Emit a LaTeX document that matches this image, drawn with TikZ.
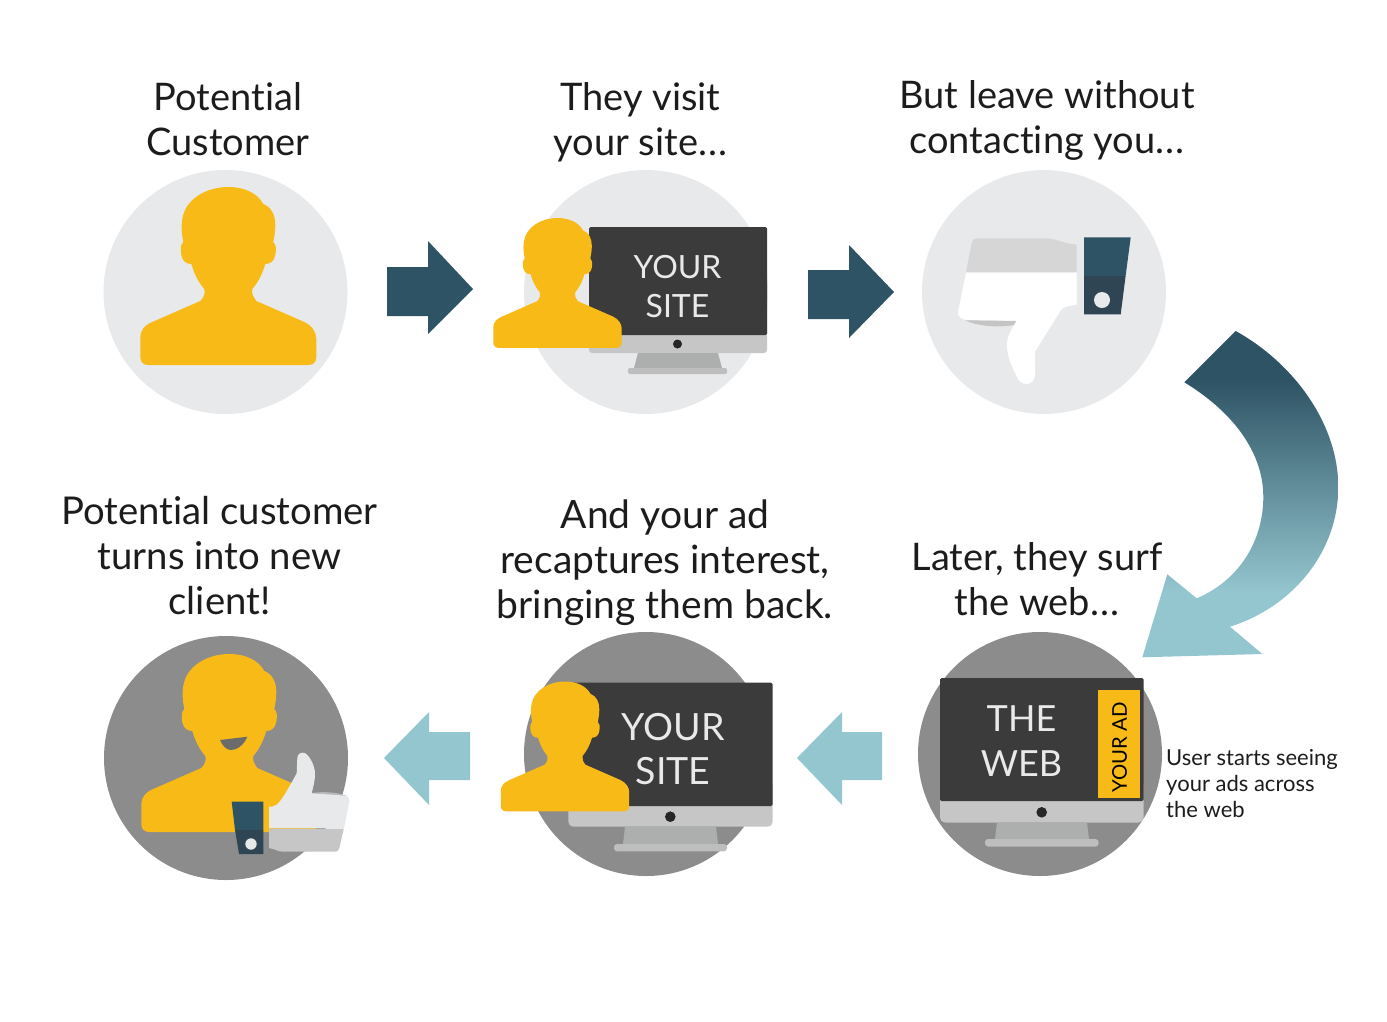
\documentclass[tikz,border=0pt]{standalone}
\usepackage{fontspec}
\setmainfont[Ligatures=NoCommon]{Lato}
\definecolor{lightdisc}{HTML}{E8E9EB}
\definecolor{darkdisc}{HTML}{8C8C8C}
\definecolor{skin}{HTML}{F8BA16}
\definecolor{navy}{HTML}{2E5364}
\definecolor{navylow}{HTML}{2F4553}
\definecolor{teal}{HTML}{94C6CF}
\definecolor{screen}{HTML}{3B3B3B}
\definecolor{chin}{HTML}{C6C6C6}
\definecolor{standc}{HTML}{ADAFAE}
\definecolor{basec}{HTML}{BEBEBE}
\definecolor{cap}{HTML}{1C1C1C}
\definecolor{screentxt}{HTML}{E9E9E9}
\pgfdeclareverticalshading{bigarrow}{100bp}{color(0bp)=(teal); color(35bp)=(teal); color(67.5bp)=(navy); color(100bp)=(navy)}
\newcommand{\threedots}{.\kern1.2pt.\kern1.2pt.}
\tikzset{
  disc/.style={circle,minimum size=244pt,inner sep=0pt,draw=none},
  lightd/.style={disc,fill=lightdisc},
  darkd/.style={disc,fill=darkdisc},
  caption/.style={align=center,text=cap,inner sep=0pt,font=\fontsize{38}{45}\selectfont},
  smallcap/.style={align=left,text=cap,inner sep=0pt,font=\fontsize{22}{26}\selectfont},
  screentext/.style={align=center,text=screentxt,inner sep=0pt},
  darkarrow/.style={fill=navy,draw=none},
  lightarrow/.style={fill=teal,draw=none},
}
\newcommand{\personshape}[3]{%
  \begin{scope}[shift={(#1,#2)},scale=#3]
  \fill[skin] (0,0)
    .. controls (16,0) and (29,6) .. (35,17)
    .. controls (43,20) and (47,28) .. (47,38)
    .. controls (47,45) and (46,50) .. (45,55)
    .. controls (48,58) and (48,62) .. (47,68)
    .. controls (46,74) and (42,77) .. (37,77)
    .. controls (34,87) and (30,95) .. (24,102)
    .. controls (23,106) and (25,110) .. (28,114)
    -- (76,135)
    .. controls (84,139) and (88,145) .. (88,152)
    -- (88,170)
    .. controls (88,175) and (85,178) .. (80,178)
    -- (-80,178)
    .. controls (-85,178) and (-88,175) .. (-88,170)
    -- (-88,150)
    .. controls (-88,144) and (-84,138) .. (-76,135)
    -- (-28,114)
    .. controls (-24,110) and (-23,106) .. (-24,102)
    .. controls (-30,95) and (-34,87) .. (-37,77)
    .. controls (-42,77) and (-46,74) .. (-47,68)
    .. controls (-48,62) and (-48,58) .. (-45,55)
    .. controls (-47,45) and (-47,38) .. (-46,32)
    .. controls (-43,12) and (-22,0) .. (0,0) -- cycle;
  \end{scope}}
\begin{document}
\begin{tikzpicture}[x=1pt,y=-1pt]
\useasboundingbox (0,0) rectangle (1387,1021);
% discs
\node[lightd] (d1) at (225.5,292) {};
\node[lightd] (d2) at (646,292) {};
\node[lightd] (d3) at (1044,292) {};
\node[darkd] (d4) at (1040,754) {};
\node[darkd] (d5) at (646,754) {};
\node[darkd] (d6) at (226,758) {};
% captions
\node[caption] (c1) at (228,119) {Potential\\Customer};
\node[caption] (c2) at (640.5,122) {They visit\\your site\threedots};
\node[caption] (c3) at (1047,120.5) {But leave without\\contacting you\threedots};
\node[caption] (c4) at (1037,579) {Later, they surf\\the web\threedots};
\node[caption,font=\fontsize{39}{45}\selectfont] (c5) at (665,562.5) {And your ad\\recaptures interest,\\bringing them back.};
\node[caption,font=\fontsize{38.3}{45}\selectfont] (c6) at (219.5,556) {Potential customer\\turns into new\\client!};
\node[smallcap,anchor=west] (c7) at (1166,784) {User starts seeing\\your ads across\\the web};
% person 1
\personshape{228.3}{187}{1}
% monitor 2
\fill[chin,rounded corners=3pt] (589,300) rectangle (767,353);
\fill[screen,rounded corners=1.5pt] (589,227) -- (767,227) -- (767,335) -- (589,335) -- cycle;
\fill[standc] (638,353) -- (718,353) -- (722,368) -- (634,368) -- cycle;
\fill[basec,rounded corners=2pt] (628,368) rectangle (727,374);
\fill[black!85] (677.5,344) circle (4.5pt);
\node[screentext,font=\fontsize{32}{39}\selectfont] (s2) at (677.5,286.5) {YOUR\\SITE};
\personshape{557.5}{218}{.73}
% thumbs down
\fill[navy] (1084,237.3) -- (1130.7,237.3) -- (1125.6,276) -- (1084,276) -- cycle;
\fill[navylow] (1084,276) -- (1125.6,276) -- (1120.7,314.3) -- (1084,314.3) -- cycle;
\fill[lightdisc] (1102,300) circle (8pt);
\fill[white!84!black] (966,272) -- (971.7,243) .. controls (972,240) and (974,238.3) .. (977,238.3) -- (1048,238.3) .. controls (1056,239) and (1062,243) .. (1076.7,244.7) -- (1076.7,272) -- cycle;
\fill[white] (966,272.7) -- (1076.7,272.7) -- (1076.7,305) .. controls (1068,305.5) and (1064,307) .. (1061,310) -- (1035,351.7) -- (1035,373) .. controls (1035,381) and (1031,384) .. (1026.7,384) .. controls (1022,384) and (1019,381) .. (1016.7,376.7) .. controls (1012,366) and (1007,358) .. (1007,345) .. controls (1007,335) and (1012,330) .. (1016,321) -- (966,320) .. controls (961,319) and (957,316) .. (958,312) -- cycle;
\fill[white!76!black!96] (965,320.3) -- (1016,321) -- (1014,325) .. controls (1000,327.5) and (980,327) .. (965,320.3) -- cycle;
% web monitor
\fill[chin,rounded corners=5pt] (940,780) rectangle (1143.5,822.5);
\fill[screen,rounded corners=1.5pt] (940,678) -- (1143.5,678) -- (1143.5,801) -- (940,801) -- cycle;
\fill[standc] (997,822.5) -- (1087,822.5) -- (1089,839) -- (995,839) -- cycle;
\fill[basec,rounded corners=3pt] (985,839) rectangle (1098.5,846.5);
\fill[black!85] (1041.7,812.3) circle (5.3pt);
\node[screentext,font=\fontsize{36}{44.5}\selectfont] (s4) at (1021.5,741) {THE\\WEB};
\fill[skin] (1098,690) rectangle (1140,798);
\node[rotate=90,inner sep=0pt,text=black,font=\fontsize{20.3}{24}\selectfont] (ad) at (1119.5,747.5) {YOUR AD};
% monitor 5
\fill[chin,rounded corners=5pt] (568.3,780) rectangle (772.7,826.7);
\fill[screen,rounded corners=1.5pt] (568.3,682.7) -- (772.7,682.7) -- (772.7,806) -- (568.3,806) -- cycle;
\fill[standc] (625,826.7) -- (716,826.7) -- (718,844) -- (623,844) -- cycle;
\fill[basec,rounded corners=3pt] (614,844) rectangle (727,851.3);
\fill[black!85] (670.3,816.7) circle (5.3pt);
\node[screentext,font=\fontsize{37.5}{44.5}\selectfont] (s5) at (673,749) {YOUR\\SITE};
\personshape{565}{681.5}{.73}
% person 6
\personshape{229.3}{654}{1}
\fill[black!58] (220,740) -- (247.3,736.7) .. controls (244,745) and (237,750) .. (231,750) .. controls (226,750) and (222,745) .. (220,740) -- cycle;
% thumbs up
\fill[navy] (231.7,801.7) -- (263.3,801.7) -- (263.3,830) -- (235,830) -- cycle;
\fill[navylow] (235,830) -- (263.3,830) -- (263.3,854) -- (239,854) -- cycle;
\fill[lightdisc] (251,844) circle (5.7pt);
\fill[white!72!black] (308,793.5) .. controls (322,791) and (338,792) .. (346.7,796) -- cycle;
\fill[lightdisc] (269,806.7) -- (272,806.7) .. controls (278,806) and (282,800) .. (296.7,773.3) -- (297.3,758.3) .. controls (297.5,754) and (300,752.7) .. (303.3,752.7) .. controls (308,752.7) and (315,765) .. (315,773.3) .. controls (315,782) and (313,787) .. (311.7,793.3) -- (346.7,795.7) .. controls (348.5,796.5) and (349.3,799) .. (349.3,801.7) -- (344,828) -- (269,828) -- cycle;
\fill[chin] (269,828.7) -- (343.8,828.7) -- (339.3,848.3) .. controls (338.5,851) and (337,851.7) .. (335,851.7) -- (283.3,851.7) .. controls (278,851.7) and (275,849) .. (269,848) -- cycle;
% straight arrows
\fill[darkarrow] (387,267) -- (428,267) -- (428,241) -- (473,289) -- (428,334) -- (428,316) -- (387,316) -- cycle;
\fill[darkarrow] (808,270) -- (849,270) -- (849,245) -- (894,292) -- (849,338) -- (849,319) -- (808,319) -- cycle;
\fill[lightarrow] (470,732) -- (429,732) -- (429,712) -- (384,758) -- (429,805) -- (429,780) -- (470,780) -- cycle;
\fill[lightarrow] (882,732) -- (842,732) -- (842,712) -- (797,758) -- (842,805) -- (842,780) -- (882,780) -- cycle;
% curved arrow
\path[shading=bigarrow] (1235.7,331) .. controls (1295,364) and (1338.3,425) .. (1338.3,487)
  .. controls (1338.3,550) and (1295,606) .. (1230,626.7)
  -- (1262.3,654) -- (1142.3,657.3) -- (1167.3,574.3) -- (1196.7,598.3)
  .. controls (1240,580) and (1263.3,540) .. (1263.3,497)
  .. controls (1263.3,450) and (1230,410) .. (1184.3,382.3) -- cycle;
\end{tikzpicture}
\end{document}
